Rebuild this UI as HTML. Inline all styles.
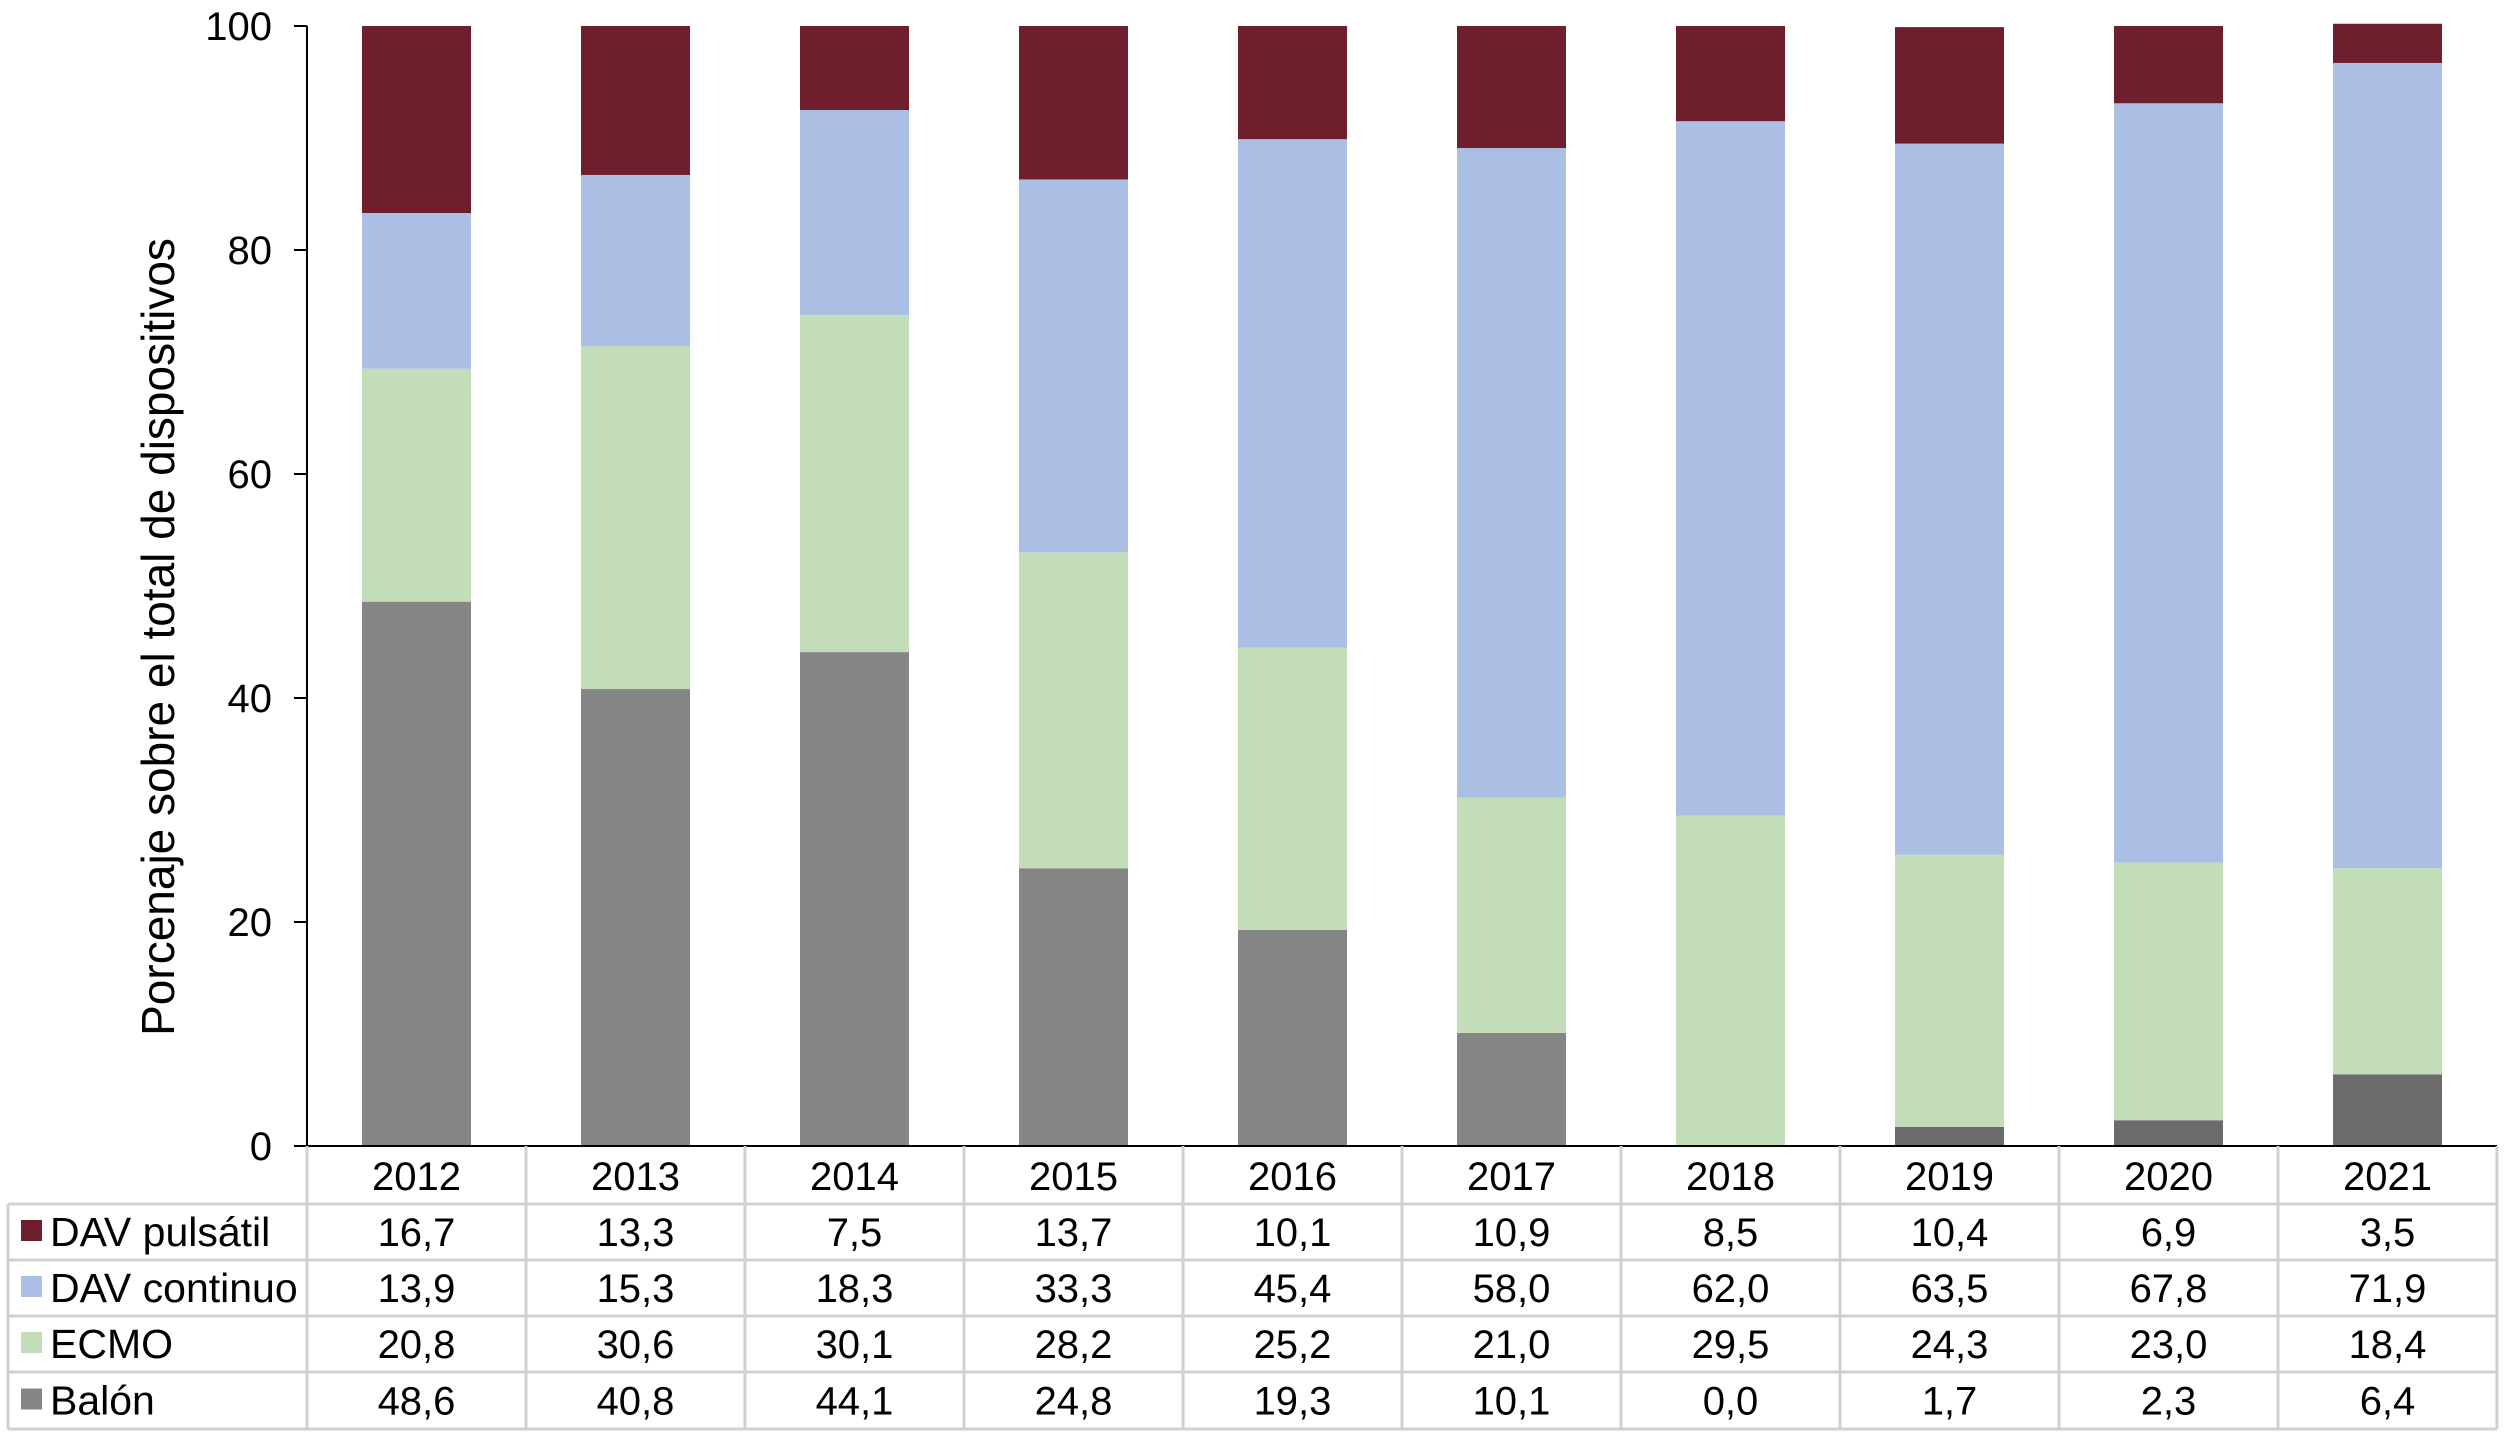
<!DOCTYPE html>
<html><head><meta charset="utf-8"><style>
html,body{margin:0;padding:0;background:#fff;}
svg{display:block;font-family:"Liberation Sans",Arial,sans-serif;}
</style></head><body>
<svg id="chart" width="2508" height="1437" viewBox="0 0 2508 1437" xmlns="http://www.w3.org/2000/svg">
<text x="0" y="0" transform="translate(174,637) rotate(-90)" text-anchor="middle" font-size="46" fill="#000">Porcenaje sobre el total de dispositivos</text>
</svg>
<script>
const years=["2012","2013","2014","2015","2016","2017","2018","2019","2020","2021"];
const balon=[48.6,40.8,44.1,24.8,19.3,10.1,0.0,1.7,2.3,6.4];
const ecmo=[20.8,30.6,30.1,28.2,25.2,21.0,29.5,24.3,23.0,18.4];
const continuo=[13.9,15.3,18.3,33.3,45.4,58.0,62.0,63.5,67.8,71.9];
const pulsatil=[16.7,13.3,7.5,13.7,10.1,10.9,8.5,10.4,6.9,3.5];
const yTicks=[0,20,40,60,80,100];
const seriesNames=["DAV pulsátil","DAV continuo","ECMO","Balón"];

const NS="http://www.w3.org/2000/svg";
const svg=document.getElementById("chart");
const X0=307,COLW=219,Y0=1146,YTOP=26,BARW=109;
const yScale=v=>Y0-(v/100)*(Y0-YTOP);
const xCenter=i=>X0+COLW*i+COLW/2;
function mk(tag,attrs){const e=document.createElementNS(NS,tag);for(const k in attrs)e.setAttribute(k,attrs[k]);svg.appendChild(e);return e;}

const stack=[{d:balon,c:"#858585",n:"balon"},{d:ecmo,c:"#c3ddb8",n:"ecmo"},{d:continuo,c:"#abbfe5",n:"dav-continuo"},{d:pulsatil,c:"#6f1e2e",n:"dav-pulsatil"}];
years.forEach((y,i)=>{
  let base=0;
  stack.forEach(s=>{
    const v=s.d[i];
    if(v>0){
      const col=(s.n==="balon"&&i>=7)?"#6b6b6b":s.c;
      const r=mk("rect",{x:xCenter(i)-BARW/2,y:yScale(base+v),width:BARW,height:yScale(base)-yScale(base+v),fill:col});
      
      
    }
    base+=v;
  });
});

const ax=mk("line",{x1:X0,y1:YTOP,x2:X0,y2:Y0,stroke:"#000","stroke-width":2});


yTicks.forEach(t=>{
  const l=mk("line",{x1:X0-13,y1:yScale(t),x2:X0,y2:yScale(t),stroke:"#000","stroke-width":2});
  
  
  const tx=mk("text",{x:X0-35,y:yScale(t)+14,"text-anchor":"end","font-size":40,fill:"#000"});
  tx.textContent=t;
  
  
});

const rowY=[1146,1204,1260,1316,1372,1429];
const TL=8,TR=X0+COLW*years.length;
const g="#d0d0d0";
rowY.forEach((y,k)=>{
  const l=mk("line",{x1:k===0?X0:TL,y1:y,x2:TR,y2:y,stroke:k===0?"#000":g,"stroke-width":k===0?2:3});
  
  
});
const l2=mk("line",{x1:TL,y1:rowY[1],x2:X0,y2:rowY[1],stroke:g,"stroke-width":3});


for(let i=0;i<=years.length;i++){
  const l=mk("line",{x1:X0+COLW*i,y1:rowY[0],x2:X0+COLW*i,y2:rowY[5],stroke:g,"stroke-width":3});
  
  
}
const lv=mk("line",{x1:TL,y1:rowY[1],x2:TL,y2:rowY[5],stroke:g,"stroke-width":3});



const fmt=v=>v.toFixed(1).replace(".",",");
years.forEach((y,i)=>{
  const t=mk("text",{x:xCenter(i),y:rowY[0]+44,"text-anchor":"middle","font-size":40,fill:"#000"});
  t.textContent=y;
  
  
});
const tableRows=[{d:pulsatil,c:"#6f1e2e"},{d:continuo,c:"#abbfe5"},{d:ecmo,c:"#c3ddb8"},{d:balon,c:"#858585"}];
tableRows.forEach((r,k)=>{
  const yc=(rowY[k+1]+rowY[k+2])/2;
  const sw=mk("rect",{x:21,y:yc-12,width:21,height:21,fill:r.c});
  
  
  const lt=mk("text",{x:50,y:yc+14,"font-size":41,fill:"#000"});
  lt.textContent=seriesNames[k];
  
  
  r.d.forEach((v,i)=>{
    const t=mk("text",{x:xCenter(i),y:yc+14,"text-anchor":"middle","font-size":40,fill:"#000"});
    t.textContent=fmt(v);
    
    
  });
});
</script>
</body></html>
